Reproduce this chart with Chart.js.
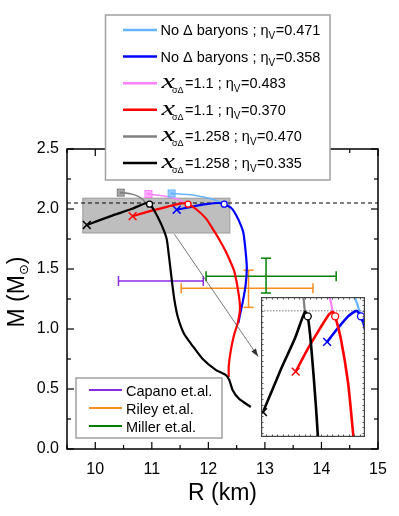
<!DOCTYPE html>
<html><head><meta charset="utf-8">
<script src="https://cdn.jsdelivr.net/npm/chart.js@4"></script>
<style>
html,body{margin:0;padding:0;background:#fff;overflow:hidden}
#wrap{position:relative;width:399px;height:516px}
#main{position:absolute;left:0;top:0}
#inset{position:absolute;left:261px;top:297px}
</style></head><body>
<div id="wrap"><canvas id="main" width="399" height="516"></canvas><canvas id="inset" width="104" height="140"></canvas></div>
<script>
// ---------------- data ----------------
const xTickValues = [10, 11, 12, 13, 14, 15];
const xTickLabels = ['10', '11', '12', '13', '14', '15'];
const yTickValues = [0, 0.5, 1.0, 1.5, 2.0, 2.5];
const yTickLabels = ['0.0', '0.5', '1.0', '1.5', '2.0', '2.5'];

// No Δ baryons ; ηV=0.471
const lightBlueR = [11.35, 11.72, 12.01, 12.15, 12.24, 12.28];
const lightBlueM = [2.13, 2.117, 2.09, 2.07, 2.05, 2.04];
// No Δ baryons ; ηV=0.358
const blueR = [11.44, 11.70, 11.96, 12.17, 12.28, 12.40, 12.49, 12.57, 12.62, 12.66, 12.68, 12.66, 12.61, 12.56, 12.53];
const blueM = [1.994, 2.018, 2.04, 2.05, 2.04, 2.01, 1.95, 1.87, 1.80, 1.64, 1.51, 1.37, 1.23, 1.12, 1.05];
const blueMaxIdx = 4;
// xσΔ=1.1 ; ηV=0.483
const pinkR = [10.94, 11.19, 11.40, 11.52, 11.58];
const pinkM = [2.125, 2.11, 2.09, 2.07, 2.048];
// xσΔ=1.1 ; ηV=0.370
const redR = [10.66, 10.95, 11.28, 11.48, 11.58, 11.64, 11.78, 11.96, 12.07, 12.20, 12.31, 12.40, 12.46, 12.53, 12.56, 12.52, 12.46, 12.40, 12.36, 12.36];
const redM = [1.94, 1.98, 2.02, 2.043, 2.048, 2.04, 2.0, 1.92, 1.84, 1.74, 1.644, 1.55, 1.478, 1.31, 1.17, 1.05, 0.96, 0.83, 0.69, 0.60];
const redMaxIdx = 5;
// xσΔ=1.258 ; ηV=0.470
const grayR = [10.45, 10.62, 10.76, 10.85, 10.89];
const grayM = [2.136, 2.127, 2.105, 2.075, 2.048];
// xσΔ=1.258 ; ηV=0.335
const blackR = [9.85, 10.31, 10.64, 10.89, 10.96, 11.04, 11.16, 11.26, 11.30, 11.33, 11.36, 11.40, 11.46, 11.57, 11.72, 11.90, 12.13, 12.31, 12.37, 12.43, 12.54, 12.75];
const blackM = [1.867, 1.947, 2.0, 2.048, 2.04, 1.99, 1.88, 1.756, 1.62, 1.50, 1.38, 1.24, 1.10, 0.96, 0.86, 0.75, 0.66, 0.615, 0.575, 0.49, 0.42, 0.35];
const blackMaxIdx = 4;

// observational constraints
const obsNames = ['Capano et.al.', 'Riley et.al.', 'Miller et.al.'];
const obsR   = [11.0, 12.71, 13.02];
const obsRlo = [10.41, 11.52, 11.96];
const obsRhi = [11.91, 13.85, 14.26];
const obsM   = [1.40, 1.34, 1.44];
const obsMlo = [null, 1.18, 1.30];
const obsMhi = [null, 1.49, 1.59];

const maxMassLine = 2.05;
const grayBoxR = [9.78, 12.38];
const grayBoxM = [1.80, 2.09];
const arrowFrom = [11.40, 1.79];
const arrowTo = [12.88, 0.77];
const insetR = [9.8, 12.38];
const insetM = [1.822, 2.075];

// ---------------- styles ----------------
const COL = {lightBlue:'#66b3ff', blue:'#0000ff', pink:'#ff80ff', red:'#ff0000', gray:'#808080', black:'#000000',
             capano:'#8a2be2', riley:'#ff8c1a', miller:'#008000'};
const FONT = '"Liberation Sans", Arial, sans-serif';

const legendMain = [
  {color: COL.lightBlue, kind:'no', eta:'0.471'},
  {color: COL.blue, kind:'no', eta:'0.358'},
  {color: COL.pink, kind:'x', xv:'1.1', eta:'0.483'},
  {color: COL.red, kind:'x', xv:'1.1', eta:'0.370'},
  {color: COL.gray, kind:'x', xv:'1.258', eta:'0.470'},
  {color: COL.black, kind:'x', xv:'1.258', eta:'0.335'}
];
const obsColors = [COL.capano, COL.riley, COL.miller];

function boxMarker(color){
  const c = document.createElement('canvas'); c.width = 10; c.height = 10;
  const g = c.getContext('2d');
  g.globalAlpha = 0.35; g.fillStyle = color; g.fillRect(1, 1, 8, 8);
  g.globalAlpha = 1; g.strokeStyle = color; g.lineWidth = 1;
  g.strokeRect(1.5, 1.5, 7, 7);
  g.beginPath(); g.moveTo(1.5,1.5); g.lineTo(8.5,8.5); g.moveTo(8.5,1.5); g.lineTo(1.5,8.5);
  g.moveTo(5,1.5); g.lineTo(5,8.5); g.moveTo(1.5,5); g.lineTo(8.5,5); g.stroke();
  return c;
}
const pts = (R, M) => R.map((r, i) => ({x: r, y: M[i]}));

function buildDatasets(lw, lwLight, crossR, circR){
  const dark = (R, M, color, order) => ({
    data: pts(R, M), showLine: true, borderColor: color, borderWidth: lw, tension: 0.2, order,
    pointStyle: 'crossRot', pointRadius: c => c.dataIndex === 0 ? crossR : 0,
    pointBorderColor: color, pointBorderWidth: 1.5, pointBackgroundColor: color
  });
  const light = (R, M, color, order) => {
    const img = boxMarker(color);
    return {
      data: pts(R, M), showLine: true, borderColor: color, borderWidth: lwLight, tension: 0.2, order,
      pointStyle: c => c.dataIndex === 0 ? img : 'circle', pointRadius: c => c.dataIndex === 0 ? 4 : 0
    };
  };
  const circ = (R, M, idx, color) => ({
    data: [{x: R[idx], y: M[idx]}], showLine: false, order: 0, pointStyle: 'circle',
    pointRadius: circR, pointBorderWidth: 1.3, pointBorderColor: color, pointBackgroundColor: '#ffffff'
  });
  return [
    light(lightBlueR, lightBlueM, COL.lightBlue, 6),
    dark(blueR, blueM, COL.blue, 5),
    light(pinkR, pinkM, COL.pink, 6),
    dark(redR, redM, COL.red, 4),
    light(grayR, grayM, COL.gray, 6),
    dark(blackR, blackM, COL.black, 3),
    circ(blueR, blueM, blueMaxIdx, COL.blue),
    circ(redR, redM, redMaxIdx, COL.red),
    circ(blackR, blackM, blackMaxIdx, COL.black)
  ];
}

function line(ctx, x0, y0, x1, y1){ ctx.beginPath(); ctx.moveTo(x0, y0); ctx.lineTo(x1, y1); ctx.stroke(); }

function drawLegendMain(ctx){
  const bx = 105.5, by = 15, bw = 224.5, bh = 165;
  ctx.fillStyle = '#fff'; ctx.fillRect(bx, by, bw, bh);
  ctx.strokeStyle = '#a0a0a0'; ctx.lineWidth = 1.5; ctx.strokeRect(bx, by, bw, bh);
  legendMain.forEach((e, i) => {
    const cy = 30 + i * 26.6;
    ctx.strokeStyle = e.color; ctx.lineWidth = 2.5; line(ctx, 123, cy, 157, cy);
    ctx.fillStyle = '#000'; ctx.textBaseline = 'alphabetic'; ctx.textAlign = 'left';
    let x = 160.5; const base = cy + 5;
    if (e.kind === 'no'){
      ctx.font = '14.5px ' + FONT; const s = 'No Δ baryons ; η';
      ctx.fillText(s, x, base); x += ctx.measureText(s).width;
    } else {
      ctx.save(); ctx.translate(x + 1, base); ctx.scale(1.45, 1);
      ctx.font = 'italic 21px "Liberation Serif", serif'; ctx.fillText('x', 0, 0); ctx.restore();
      ctx.font = '9px ' + FONT; ctx.fillText('σΔ', 172, base + 5);
      x = 185;
      ctx.font = '14.5px ' + FONT; const s = '=' + e.xv + ' ; η';
      ctx.fillText(s, x, base); x += ctx.measureText(s).width;
    }
    ctx.font = '10px ' + FONT; ctx.fillText('V', x, base + 4); x += ctx.measureText('V').width + 0.5;
    ctx.font = '14.5px ' + FONT; ctx.fillText('=' + e.eta, x, base);
  });
}

function drawLegendObs(ctx){
  const bx = 76, by = 378, bw = 146, bh = 60;
  ctx.fillStyle = '#fff'; ctx.fillRect(bx, by, bw, bh);
  ctx.strokeStyle = '#a0a0a0'; ctx.lineWidth = 1.5; ctx.strokeRect(bx, by, bw, bh);
  obsNames.forEach((n, i) => {
    const cy = 390 + i * 18;
    ctx.strokeStyle = obsColors[i]; ctx.lineWidth = 2; line(ctx, 89, cy, 122, cy);
    ctx.fillStyle = '#000'; ctx.font = '14.5px ' + FONT; ctx.textAlign = 'left'; ctx.textBaseline = 'alphabetic';
    ctx.fillText(n, 126, cy + 5.5);
  });
}

const decor = {
  id: 'decor',
  beforeDatasetsDraw(chart){
    const {ctx, chartArea: a, scales: {x, y}} = chart;
    ctx.save();
    const bx0 = x.getPixelForValue(grayBoxR[0]), bx1 = x.getPixelForValue(grayBoxR[1]);
    const by0 = y.getPixelForValue(grayBoxM[1]), by1 = y.getPixelForValue(grayBoxM[0]);
    ctx.fillStyle = '#bebebe'; ctx.fillRect(bx0, by0, bx1 - bx0, by1 - by0);
    ctx.strokeStyle = '#9a9a9a'; ctx.lineWidth = 1; ctx.strokeRect(bx0, by0, bx1 - bx0, by1 - by0);
    const yd = y.getPixelForValue(maxMassLine);
    ctx.setLineDash([4, 3]); ctx.strokeStyle = '#000'; ctx.lineWidth = 1; line(ctx, a.left, yd, a.right, yd);
    ctx.setLineDash([]);
    // error bars
    obsNames.forEach((n, i) => {
      ctx.strokeStyle = obsColors[i]; ctx.lineWidth = 1.5;
      const yc = y.getPixelForValue(obsM[i]);
      const xl = x.getPixelForValue(obsRlo[i]), xh = x.getPixelForValue(obsRhi[i]);
      line(ctx, xl, yc, xh, yc); line(ctx, xl, yc - 5, xl, yc + 5); line(ctx, xh, yc - 5, xh, yc + 5);
      if (obsMlo[i] !== null){
        const xc = x.getPixelForValue(obsR[i]);
        const yl = y.getPixelForValue(obsMlo[i]), yh = y.getPixelForValue(obsMhi[i]);
        line(ctx, xc, yl, xc, yh); line(ctx, xc - 5, yl, xc + 5, yl); line(ctx, xc - 5, yh, xc + 5, yh);
      }
    });
    ctx.restore();
  },
  afterDatasetsDraw(chart){
    const {ctx, chartArea: a, scales: {x, y}} = chart;
    ctx.save();
    // arrow
    const ax0 = x.getPixelForValue(arrowFrom[0]), ay0 = y.getPixelForValue(arrowFrom[1]);
    const ax1 = x.getPixelForValue(arrowTo[0]), ay1 = y.getPixelForValue(arrowTo[1]);
    ctx.strokeStyle = '#555'; ctx.fillStyle = '#333'; ctx.lineWidth = 0.8; line(ctx, ax0, ay0, ax1, ay1);
    const ang = Math.atan2(ay1 - ay0, ax1 - ax0);
    ctx.beginPath(); ctx.moveTo(ax1, ay1);
    ctx.lineTo(ax1 - 8 * Math.cos(ang) + 2.8 * Math.sin(ang), ay1 - 8 * Math.sin(ang) - 2.8 * Math.cos(ang));
    ctx.lineTo(ax1 - 8 * Math.cos(ang) - 2.8 * Math.sin(ang), ay1 - 8 * Math.sin(ang) + 2.8 * Math.cos(ang));
    ctx.closePath(); ctx.fill();
    // frame + inward ticks
    ctx.strokeStyle = '#000'; ctx.lineWidth = 1.5;
    ctx.strokeRect(a.left, a.top, a.right - a.left, a.bottom - a.top);
    ctx.lineWidth = 1.2;
    for (let v = 9.5; v <= 15.001; v += 0.5){
      const px = x.getPixelForValue(v); const L = (Math.abs(v - Math.round(v)) < 1e-6) ? 7 : 4;
      line(ctx, px, a.bottom, px, a.bottom - L); line(ctx, px, a.top, px, a.top + L);
    }
    for (let v = 0; v <= 2.5001; v += 0.25){
      const py = y.getPixelForValue(v); const L = (Math.abs(v * 2 - Math.round(v * 2)) < 1e-6) ? 7 : 4;
      line(ctx, a.left, py, a.left + L, py); line(ctx, a.right, py, a.right - L, py);
    }
    drawLegendMain(ctx);
    drawLegendObs(ctx);
    // axis titles
    ctx.fillStyle = '#000'; ctx.textAlign = 'center'; ctx.textBaseline = 'alphabetic';
    ctx.font = '23px ' + FONT;
    ctx.fillText('R (km)', (a.left + a.right) / 2, 499.5);
    ctx.save();
    ctx.translate(24, 292); ctx.rotate(-Math.PI / 2);
    ctx.font = '23px ' + FONT; ctx.textAlign = 'left';
    const p1 = 'M (M', w1 = ctx.measureText(p1).width;
    ctx.font = '13px "DejaVu Sans", sans-serif'; const w2 = ctx.measureText('⊙').width;
    ctx.font = '23px ' + FONT; const w3 = ctx.measureText(')').width;
    let sx = -(w1 + w2 + w3) / 2;
    ctx.fillText(p1, sx, 0); sx += w1;
    ctx.font = '13px "DejaVu Sans", sans-serif'; ctx.fillText('⊙', sx, 4); sx += w2;
    ctx.font = '23px ' + FONT; ctx.fillText(')', sx, 0);
    ctx.restore();
    ctx.restore();
  }
};

Chart.defaults.font.family = FONT;
Chart.defaults.color = '#000';

new Chart(document.getElementById('main'), {
  type: 'scatter',
  data: {datasets: buildDatasets(2.2, 1.6, 5.5, 3)},
  options: {
    responsive: false, animation: false, events: [],
    layout: {autoPadding: false, padding: {top: 149, right: 21, left: 0, bottom: 0}},
    plugins: {legend: {display: false}, tooltip: {enabled: false}},
    scales: {
      x: {type: 'linear', min: 9.5, max: 15,
          grid: {display: false, drawTicks: false}, border: {display: false},
          afterBuildTicks: s => { s.ticks = xTickValues.map(v => ({value: v})); },
          afterFit: s => { s.height = 67; },
          ticks: {padding: 11, font: {size: 16}, callback: (v, i) => xTickLabels[i]}},
      y: {type: 'linear', min: 0, max: 2.5,
          grid: {display: false, drawTicks: false}, border: {display: false},
          afterBuildTicks: s => { s.ticks = yTickValues.map(v => ({value: v})); },
          afterFit: s => { s.width = 67; },
          ticks: {padding: 8, font: {size: 16}, callback: (v, i) => yTickLabels[i]}}
    }
  },
  plugins: [decor]
});

const insetDecor = {
  id: 'insetDecor',
  beforeDraw(chart){
    const {ctx, width, height} = chart;
    ctx.save(); ctx.fillStyle = '#fff'; ctx.fillRect(0, 0, width, height); ctx.restore();
  },
  beforeDatasetsDraw(chart){
    const {ctx, chartArea: a, scales: {x, y}} = chart;
    ctx.save();
    const yd = y.getPixelForValue(maxMassLine);
    ctx.setLineDash([1.5, 1.5]); ctx.strokeStyle = '#777'; ctx.lineWidth = 1; line(ctx, a.left, yd, a.right, yd);
    ctx.restore();
  },
  afterDraw(chart){
    const {ctx, chartArea: a, scales: {x, y}} = chart;
    ctx.save();
    ctx.strokeStyle = '#555'; ctx.lineWidth = 1;
    for (let v = 1.83; v < insetM[1]; v += 0.01){
      const py = Math.round(y.getPixelForValue(v)) + 0.5;
      line(ctx, a.left, py, a.left + 2.5, py); line(ctx, a.right, py, a.right - 2.5, py);
    }
    for (let v = insetR[0] + 0.135; v < insetR[1]; v += 0.1365){
      const px = Math.round(x.getPixelForValue(v)) + 0.5;
      line(ctx, px, a.top, px, a.top + 2.5); line(ctx, px, a.bottom, px, a.bottom - 2.5);
    }
    ctx.strokeStyle = '#444'; ctx.lineWidth = 1.2;
    ctx.strokeRect(a.left + 0.6, a.top + 0.6, a.right - a.left - 1.2, a.bottom - a.top - 1.2);
    ctx.restore();
  }
};

new Chart(document.getElementById('inset'), {
  type: 'scatter',
  data: {datasets: buildDatasets(2.6, 2.2, 5.5, 3.5)},
  options: {
    responsive: false, animation: false, events: [],
    layout: {autoPadding: false, padding: 0},
    plugins: {legend: {display: false}, tooltip: {enabled: false}},
    scales: {
      x: {type: 'linear', min: insetR[0], max: insetR[1], display: false},
      y: {type: 'linear', min: insetM[0], max: insetM[1], display: false}
    }
  },
  plugins: [insetDecor]
});
</script>
</body></html>
